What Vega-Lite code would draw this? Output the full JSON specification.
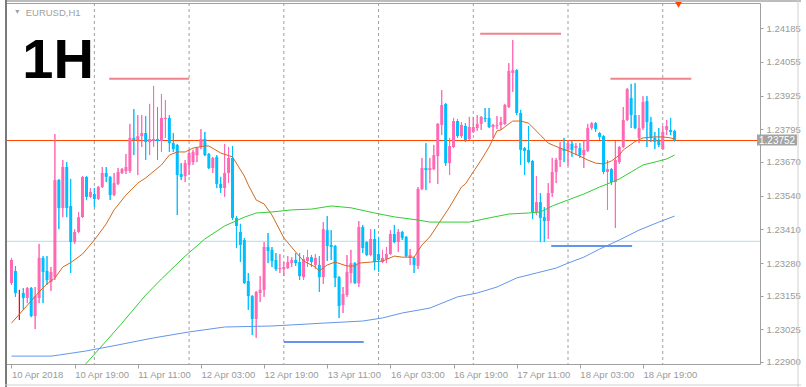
{
"$schema": "https://vega.github.io/schema/vega-lite/v6.json",
"width": 755, "height": 361,
"autosize": {"type": "none"},
"padding": {"left": 5, "top": 3, "right": 46, "bottom": 23},
"background": "white",
"config": {"view": {"stroke": "#a0a0a0", "strokeWidth": 1}, "font": "Liberation Sans",
"axis": {"grid": false, "domain": false, "labelFont": "Liberation Sans", "labelFontSize": 9.5, "labelColor": "#9a9a9a", "tickColor": "#a0a0a0"}},
"datasets": {
"candles": [
{"i":0,"o":1.23203,"h":1.23300,"l":1.23196,"c":1.23292},
{"i":1,"o":1.23250,"h":1.23269,"l":1.23150,"c":1.23165},
{"i":2,"o":1.23173,"h":1.23177,"l":1.23061,"c":1.23173},
{"i":3,"o":1.23165,"h":1.23184,"l":1.23100,"c":1.23146},
{"i":4,"o":1.23146,"h":1.23188,"l":1.23126,"c":1.23184},
{"i":5,"o":1.23184,"h":1.23188,"l":1.23072,"c":1.23076},
{"i":6,"o":1.23076,"h":1.23188,"l":1.23026,"c":1.23153},
{"i":7,"o":1.23146,"h":1.23354,"l":1.23126,"c":1.23300},
{"i":8,"o":1.23300,"h":1.23307,"l":1.23126,"c":1.23246},
{"i":9,"o":1.23250,"h":1.23307,"l":1.23196,"c":1.23215},
{"i":10,"o":1.23207,"h":1.23265,"l":1.23173,"c":1.23246},
{"i":11,"o":1.23226,"h":1.23777,"l":1.23215,"c":1.23600},
{"i":12,"o":1.23600,"h":1.23604,"l":1.23411,"c":1.23492},
{"i":13,"o":1.23492,"h":1.23677,"l":1.23457,"c":1.23650},
{"i":14,"o":1.23650,"h":1.23669,"l":1.23457,"c":1.23492},
{"i":15,"o":1.23500,"h":1.23604,"l":1.23242,"c":1.23361},
{"i":16,"o":1.23361,"h":1.23411,"l":1.23354,"c":1.23400},
{"i":17,"o":1.23400,"h":1.23477,"l":1.23396,"c":1.23457},
{"i":18,"o":1.23457,"h":1.23615,"l":1.23454,"c":1.23612},
{"i":19,"o":1.23612,"h":1.23615,"l":1.23523,"c":1.23535},
{"i":20,"o":1.23535,"h":1.23569,"l":1.23531,"c":1.23554},
{"i":21,"o":1.23546,"h":1.23569,"l":1.23496,"c":1.23527},
{"i":22,"o":1.23527,"h":1.23577,"l":1.23523,"c":1.23573},
{"i":23,"o":1.23573,"h":1.23650,"l":1.23569,"c":1.23627},
{"i":24,"o":1.23627,"h":1.23650,"l":1.23592,"c":1.23612},
{"i":25,"o":1.23612,"h":1.23615,"l":1.23523,"c":1.23542},
{"i":26,"o":1.23542,"h":1.23627,"l":1.23538,"c":1.23588},
{"i":27,"o":1.23585,"h":1.23646,"l":1.23581,"c":1.23631},
{"i":28,"o":1.23627,"h":1.23646,"l":1.23623,"c":1.23642},
{"i":29,"o":1.23635,"h":1.23700,"l":1.23623,"c":1.23650},
{"i":30,"o":1.23635,"h":1.23816,"l":1.23627,"c":1.23762},
{"i":31,"o":1.23762,"h":1.23873,"l":1.23696,"c":1.23754},
{"i":32,"o":1.23754,"h":1.23850,"l":1.23619,"c":1.23769},
{"i":33,"o":1.23769,"h":1.23850,"l":1.23727,"c":1.23781},
{"i":34,"o":1.23781,"h":1.23846,"l":1.23677,"c":1.23746},
{"i":35,"o":1.23746,"h":1.23893,"l":1.23696,"c":1.23758},
{"i":36,"o":1.23750,"h":1.23962,"l":1.23727,"c":1.23758},
{"i":37,"o":1.23758,"h":1.23881,"l":1.23677,"c":1.23750},
{"i":38,"o":1.23750,"h":1.23931,"l":1.23708,"c":1.23839},
{"i":39,"o":1.23835,"h":1.23908,"l":1.23762,"c":1.23839},
{"i":40,"o":1.23839,"h":1.23850,"l":1.23708,"c":1.23742},
{"i":41,"o":1.23742,"h":1.23781,"l":1.23708,"c":1.23719},
{"i":42,"o":1.23735,"h":1.23739,"l":1.23465,"c":1.23619},
{"i":43,"o":1.23623,"h":1.23665,"l":1.23600,"c":1.23612},
{"i":44,"o":1.23615,"h":1.23677,"l":1.23592,"c":1.23665},
{"i":45,"o":1.23658,"h":1.23716,"l":1.23619,"c":1.23704},
{"i":46,"o":1.23669,"h":1.23716,"l":1.23658,"c":1.23708},
{"i":47,"o":1.23696,"h":1.23727,"l":1.23669,"c":1.23723},
{"i":48,"o":1.23727,"h":1.23796,"l":1.23719,"c":1.23758},
{"i":49,"o":1.23758,"h":1.23785,"l":1.23692,"c":1.23696},
{"i":50,"o":1.23700,"h":1.23704,"l":1.23642,"c":1.23646},
{"i":51,"o":1.23646,"h":1.23689,"l":1.23627,"c":1.23685},
{"i":52,"o":1.23689,"h":1.23696,"l":1.23569,"c":1.23585},
{"i":53,"o":1.23585,"h":1.23612,"l":1.23550,"c":1.23569},
{"i":54,"o":1.23569,"h":1.23739,"l":1.23535,"c":1.23627},
{"i":55,"o":1.23627,"h":1.23727,"l":1.23588,"c":1.23685},
{"i":56,"o":1.23685,"h":1.23731,"l":1.23446,"c":1.23454},
{"i":57,"o":1.23454,"h":1.23461,"l":1.23338,"c":1.23423},
{"i":58,"o":1.23400,"h":1.23431,"l":1.23284,"c":1.23350},
{"i":59,"o":1.23369,"h":1.23377,"l":1.23200,"c":1.23203},
{"i":60,"o":1.23211,"h":1.23242,"l":1.23100,"c":1.23153},
{"i":61,"o":1.23153,"h":1.23157,"l":1.23003,"c":1.23065},
{"i":62,"o":1.23065,"h":1.23173,"l":1.22992,"c":1.23169},
{"i":63,"o":1.23165,"h":1.23230,"l":1.23130,"c":1.23177},
{"i":64,"o":1.23177,"h":1.23361,"l":1.23150,"c":1.23342},
{"i":65,"o":1.23342,"h":1.23396,"l":1.23280,"c":1.23327},
{"i":66,"o":1.23331,"h":1.23342,"l":1.23265,"c":1.23288},
{"i":67,"o":1.23292,"h":1.23319,"l":1.23250,"c":1.23257},
{"i":68,"o":1.23257,"h":1.23315,"l":1.23242,"c":1.23261},
{"i":69,"o":1.23257,"h":1.23284,"l":1.23230,"c":1.23265},
{"i":70,"o":1.23261,"h":1.23307,"l":1.23257,"c":1.23284},
{"i":71,"o":1.23280,"h":1.23303,"l":1.23265,"c":1.23292},
{"i":72,"o":1.23292,"h":1.23319,"l":1.23269,"c":1.23280},
{"i":73,"o":1.23284,"h":1.23319,"l":1.23215,"c":1.23230},
{"i":74,"o":1.23226,"h":1.23311,"l":1.23215,"c":1.23296},
{"i":75,"o":1.23288,"h":1.23331,"l":1.23265,"c":1.23303},
{"i":76,"o":1.23303,"h":1.23311,"l":1.23265,"c":1.23284},
{"i":77,"o":1.23273,"h":1.23315,"l":1.23257,"c":1.23300},
{"i":78,"o":1.23273,"h":1.23307,"l":1.23169,"c":1.23226},
{"i":79,"o":1.23226,"h":1.23438,"l":1.23200,"c":1.23411},
{"i":80,"o":1.23407,"h":1.23461,"l":1.23288,"c":1.23346},
{"i":81,"o":1.23350,"h":1.23407,"l":1.23292,"c":1.23342},
{"i":82,"o":1.23346,"h":1.23350,"l":1.23188,"c":1.23223},
{"i":83,"o":1.23226,"h":1.23230,"l":1.23069,"c":1.23115},
{"i":84,"o":1.23119,"h":1.23188,"l":1.23088,"c":1.23161},
{"i":85,"o":1.23157,"h":1.23311,"l":1.23150,"c":1.23246},
{"i":86,"o":1.23242,"h":1.23331,"l":1.23203,"c":1.23280},
{"i":87,"o":1.23280,"h":1.23284,"l":1.23200,"c":1.23203},
{"i":88,"o":1.23203,"h":1.23442,"l":1.23188,"c":1.23419},
{"i":89,"o":1.23419,"h":1.23427,"l":1.23319,"c":1.23338},
{"i":90,"o":1.23361,"h":1.23365,"l":1.23307,"c":1.23311},
{"i":91,"o":1.23311,"h":1.23411,"l":1.23307,"c":1.23373},
{"i":92,"o":1.23373,"h":1.23411,"l":1.23253,"c":1.23284},
{"i":93,"o":1.23315,"h":1.23381,"l":1.23246,"c":1.23292},
{"i":94,"o":1.23284,"h":1.23331,"l":1.23280,"c":1.23300},
{"i":95,"o":1.23296,"h":1.23342,"l":1.23280,"c":1.23315},
{"i":96,"o":1.23315,"h":1.23407,"l":1.23311,"c":1.23392},
{"i":97,"o":1.23392,"h":1.23427,"l":1.23357,"c":1.23361},
{"i":98,"o":1.23361,"h":1.23411,"l":1.23323,"c":1.23400},
{"i":99,"o":1.23400,"h":1.23404,"l":1.23369,"c":1.23377},
{"i":100,"o":1.23381,"h":1.23384,"l":1.23303,"c":1.23307},
{"i":101,"o":1.23300,"h":1.23334,"l":1.23273,"c":1.23311},
{"i":102,"o":1.23300,"h":1.23303,"l":1.23242,"c":1.23273},
{"i":103,"o":1.23269,"h":1.23573,"l":1.23257,"c":1.23565},
{"i":104,"o":1.23565,"h":1.23685,"l":1.23561,"c":1.23646},
{"i":105,"o":1.23646,"h":1.23742,"l":1.23561,"c":1.23638},
{"i":106,"o":1.23638,"h":1.23685,"l":1.23588,"c":1.23646},
{"i":107,"o":1.23642,"h":1.23735,"l":1.23638,"c":1.23696},
{"i":108,"o":1.23692,"h":1.23819,"l":1.23585,"c":1.23816},
{"i":109,"o":1.23812,"h":1.23946,"l":1.23773,"c":1.23889},
{"i":110,"o":1.23893,"h":1.23896,"l":1.23654,"c":1.23665},
{"i":111,"o":1.23665,"h":1.23762,"l":1.23619,"c":1.23731},
{"i":112,"o":1.23727,"h":1.23839,"l":1.23723,"c":1.23827},
{"i":113,"o":1.23827,"h":1.23835,"l":1.23762,"c":1.23769},
{"i":114,"o":1.23769,"h":1.23823,"l":1.23762,"c":1.23812},
{"i":115,"o":1.23808,"h":1.23819,"l":1.23746,"c":1.23754},
{"i":116,"o":1.23758,"h":1.23843,"l":1.23754,"c":1.23804},
{"i":117,"o":1.23785,"h":1.23843,"l":1.23781,"c":1.23804},
{"i":118,"o":1.23800,"h":1.23850,"l":1.23789,"c":1.23816},
{"i":119,"o":1.23816,"h":1.23846,"l":1.23793,"c":1.23843},
{"i":120,"o":1.23839,"h":1.23877,"l":1.23823,"c":1.23835},
{"i":121,"o":1.23839,"h":1.23877,"l":1.23800,"c":1.23804},
{"i":122,"o":1.23804,"h":1.23816,"l":1.23762,"c":1.23812},
{"i":123,"o":1.23808,"h":1.23846,"l":1.23796,"c":1.23812},
{"i":124,"o":1.23812,"h":1.23843,"l":1.23793,"c":1.23823},
{"i":125,"o":1.23816,"h":1.23893,"l":1.23812,"c":1.23889},
{"i":126,"o":1.23881,"h":1.24050,"l":1.23877,"c":1.24020},
{"i":127,"o":1.24012,"h":1.24139,"l":1.23939,"c":1.24023},
{"i":128,"o":1.24023,"h":1.24027,"l":1.23850,"c":1.23858},
{"i":129,"o":1.23858,"h":1.23870,"l":1.23658,"c":1.23716},
{"i":130,"o":1.23723,"h":1.23727,"l":1.23619,"c":1.23712},
{"i":131,"o":1.23716,"h":1.23808,"l":1.23665,"c":1.23669},
{"i":132,"o":1.23673,"h":1.23677,"l":1.23450,"c":1.23477},
{"i":133,"o":1.23477,"h":1.23615,"l":1.23465,"c":1.23515},
{"i":134,"o":1.23515,"h":1.23550,"l":1.23361,"c":1.23454},
{"i":135,"o":1.23457,"h":1.23496,"l":1.23361,"c":1.23442},
{"i":136,"o":1.23442,"h":1.23588,"l":1.23373,"c":1.23550},
{"i":137,"o":1.23550,"h":1.23685,"l":1.23535,"c":1.23631},
{"i":138,"o":1.23631,"h":1.23685,"l":1.23588,"c":1.23677},
{"i":139,"o":1.23677,"h":1.23746,"l":1.23650,"c":1.23723},
{"i":140,"o":1.23719,"h":1.23762,"l":1.23669,"c":1.23712},
{"i":141,"o":1.23716,"h":1.23754,"l":1.23654,"c":1.23742},
{"i":142,"o":1.23739,"h":1.23750,"l":1.23689,"c":1.23716},
{"i":143,"o":1.23723,"h":1.23742,"l":1.23696,"c":1.23731},
{"i":144,"o":1.23723,"h":1.23742,"l":1.23685,"c":1.23696},
{"i":145,"o":1.23696,"h":1.23754,"l":1.23646,"c":1.23716},
{"i":146,"o":1.23712,"h":1.23816,"l":1.23708,"c":1.23800},
{"i":147,"o":1.23800,"h":1.23823,"l":1.23793,"c":1.23819},
{"i":148,"o":1.23819,"h":1.23823,"l":1.23785,"c":1.23796},
{"i":149,"o":1.23781,"h":1.23785,"l":1.23754,"c":1.23766},
{"i":150,"o":1.23769,"h":1.23773,"l":1.23623,"c":1.23631},
{"i":151,"o":1.23631,"h":1.23677,"l":1.23485,"c":1.23642},
{"i":152,"o":1.23642,"h":1.23646,"l":1.23581,"c":1.23592},
{"i":153,"o":1.23592,"h":1.23750,"l":1.23415,"c":1.23677},
{"i":154,"o":1.23669,"h":1.23731,"l":1.23662,"c":1.23727},
{"i":155,"o":1.23727,"h":1.23881,"l":1.23723,"c":1.23831},
{"i":156,"o":1.23831,"h":1.23954,"l":1.23827,"c":1.23950},
{"i":157,"o":1.23916,"h":1.23970,"l":1.23800,"c":1.23850},
{"i":158,"o":1.23850,"h":1.23973,"l":1.23796,"c":1.23800},
{"i":159,"o":1.23762,"h":1.23850,"l":1.23742,"c":1.23800},
{"i":160,"o":1.23800,"h":1.23923,"l":1.23793,"c":1.23900},
{"i":161,"o":1.23904,"h":1.23923,"l":1.23727,"c":1.23823},
{"i":162,"o":1.23823,"h":1.23843,"l":1.23746,"c":1.23762},
{"i":163,"o":1.23762,"h":1.23785,"l":1.23719,"c":1.23746},
{"i":164,"o":1.23750,"h":1.23800,"l":1.23727,"c":1.23735},
{"i":165,"o":1.23719,"h":1.23808,"l":1.23716,"c":1.23785},
{"i":166,"o":1.23793,"h":1.23831,"l":1.23773,"c":1.23808},
{"i":167,"o":1.23793,"h":1.23839,"l":1.23773,"c":1.23785},
{"i":168,"o":1.23789,"h":1.23793,"l":1.23748,"c":1.23752}
],
"ma": [
{"m":"a","i":0,"v":1.23049},{"m":"a","i":7,"v":1.23169},{"m":"a","i":9,"v":1.23200},{"m":"a","i":11,"v":1.23223},{"m":"a","i":13,"v":1.23265},{"m":"a","i":15,"v":1.23282},{"m":"a","i":18,"v":1.23315},{"m":"a","i":21,"v":1.23369},{"m":"a","i":24,"v":1.23431},{"m":"a","i":26,"v":1.23485},{"m":"a","i":29,"v":1.23542},{"m":"a","i":32,"v":1.23588},{"m":"a","i":34,"v":1.23608},{"m":"a","i":38,"v":1.23658},{"m":"a","i":40,"v":1.23696},{"m":"a","i":42,"v":1.23708},{"m":"a","i":44,"v":1.23708},{"m":"a","i":46,"v":1.23723},{"m":"a","i":49,"v":1.23731},{"m":"a","i":50,"v":1.23731},{"m":"a","i":53,"v":1.23704},{"m":"a","i":56,"v":1.23689},{"m":"a","i":59,"v":1.23615},{"m":"a","i":60,"v":1.23581},{"m":"a","i":62,"v":1.23523},{"m":"a","i":64,"v":1.23508},{"m":"a","i":66,"v":1.23465},{"m":"a","i":69,"v":1.23377},{"m":"a","i":72,"v":1.23323},{"m":"a","i":74,"v":1.23288},{"m":"a","i":77,"v":1.23265},{"m":"a","i":78,"v":1.23250},{"m":"a","i":80,"v":1.23273},{"m":"a","i":82,"v":1.23284},{"m":"a","i":85,"v":1.23269},{"m":"a","i":87,"v":1.23269},{"m":"a","i":88,"v":1.23280},{"m":"a","i":91,"v":1.23284},{"m":"a","i":94,"v":1.23288},{"m":"a","i":97,"v":1.23307},{"m":"a","i":99,"v":1.23303},{"m":"a","i":102,"v":1.23303},{"m":"a","i":104,"v":1.23350},{"m":"a","i":106,"v":1.23381},{"m":"a","i":109,"v":1.23450},{"m":"a","i":111,"v":1.23496},{"m":"a","i":114,"v":1.23573},{"m":"a","i":115,"v":1.23585},{"m":"a","i":119,"v":1.23677},{"m":"a","i":121,"v":1.23727},{"m":"a","i":123,"v":1.23789},{"m":"a","i":124,"v":1.23793},{"m":"a","i":126,"v":1.23816},{"m":"a","i":127,"v":1.23827},{"m":"a","i":129,"v":1.23827},{"m":"a","i":131,"v":1.23819},{"m":"a","i":134,"v":1.23773},{"m":"a","i":136,"v":1.23742},{"m":"a","i":139,"v":1.23723},{"m":"a","i":141,"v":1.23712},{"m":"a","i":144,"v":1.23692},{"m":"a","i":146,"v":1.23677},{"m":"a","i":148,"v":1.23665},{"m":"a","i":150,"v":1.23662},{"m":"a","i":152,"v":1.23673},{"m":"a","i":154,"v":1.23696},{"m":"a","i":155,"v":1.23716},{"m":"a","i":158,"v":1.23748},{"m":"a","i":160,"v":1.23762},{"m":"a","i":163,"v":1.23766},{"m":"a","i":165,"v":1.23766},{"m":"a","i":167,"v":1.23762},{"m":"a","i":168,"v":1.23758},
{"m":"b","i":17,"v":1.22861},{"m":"b","i":19,"v":1.22895},{"m":"b","i":24,"v":1.22980},{"m":"b","i":28,"v":1.23049},{"m":"b","i":34,"v":1.23157},{"m":"b","i":38,"v":1.23219},{"m":"b","i":44,"v":1.23307},{"m":"b","i":49,"v":1.23373},{"m":"b","i":54,"v":1.23423},{"m":"b","i":59,"v":1.23457},{"m":"b","i":62,"v":1.23473},{"m":"b","i":66,"v":1.23477},{"m":"b","i":71,"v":1.23485},{"m":"b","i":76,"v":1.23488},{"m":"b","i":81,"v":1.23500},{"m":"b","i":86,"v":1.23493},{"m":"b","i":92,"v":1.23473},{"m":"b","i":97,"v":1.23458},{"m":"b","i":103,"v":1.23446},{"m":"b","i":106,"v":1.23438},{"m":"b","i":116,"v":1.23438},{"m":"b","i":121,"v":1.23454},{"m":"b","i":126,"v":1.23469},{"m":"b","i":131,"v":1.23473},{"m":"b","i":134,"v":1.23477},{"m":"b","i":137,"v":1.23500},{"m":"b","i":141,"v":1.23523},{"m":"b","i":145,"v":1.23546},{"m":"b","i":149,"v":1.23573},{"m":"b","i":151,"v":1.23585},{"m":"b","i":154,"v":1.23604},{"m":"b","i":157,"v":1.23631},{"m":"b","i":160,"v":1.23658},{"m":"b","i":163,"v":1.23669},{"m":"b","i":166,"v":1.23681},{"m":"b","i":168,"v":1.23696},
{"m":"c","i":0,"v":1.22922},{"m":"c","i":10,"v":1.22922},{"m":"c","i":12,"v":1.22926},{"m":"c","i":19,"v":1.22942},{"m":"c","i":27,"v":1.22965},{"m":"c","i":36,"v":1.22992},{"m":"c","i":45,"v":1.23015},{"m":"c","i":54,"v":1.23034},{"m":"c","i":66,"v":1.23038},{"m":"c","i":71,"v":1.23042},{"m":"c","i":79,"v":1.23049},{"m":"c","i":89,"v":1.23057},{"m":"c","i":94,"v":1.23069},{"m":"c","i":99,"v":1.23088},{"m":"c","i":106,"v":1.23107},{"m":"c","i":113,"v":1.23150},{"m":"c","i":118,"v":1.23165},{"m":"c","i":123,"v":1.23188},{"m":"c","i":128,"v":1.23223},{"m":"c","i":133,"v":1.23242},{"m":"c","i":138,"v":1.23261},{"m":"c","i":141,"v":1.23280},{"m":"c","i":145,"v":1.23303},{"m":"c","i":149,"v":1.23334},{"m":"c","i":154,"v":1.23369},{"m":"c","i":159,"v":1.23407},{"m":"c","i":164,"v":1.23438},{"m":"c","i":168,"v":1.23461}
],
"days": [{"i":21},{"i":45},{"i":69},{"i":93},{"i":117},{"i":141},{"i":165}],
"hlines": [{"p":1.23364,"k":"s"},{"p":1.23752,"k":"p"}],
"levels": [
{"i":24.75,"i2":45,"p":1.23990,"k":"r"},
{"i":118.75,"i2":139.25,"p":1.24163,"k":"r"},
{"i":151.75,"i2":172.25,"p":1.23990,"k":"r"},
{"i":69,"i2":89.25,"p":1.22976,"k":"b"},
{"i":136.75,"i2":157.25,"p":1.23346,"k":"b"}
],
"edges": [{"x0": -0.375, "x1": 188.375, "top": 1.242815, "bottom": 1.228916}]
},
"layer": [
{
"data": {"name": "candles"},
"mark": {"type": "rule", "strokeWidth": 1},
"encoding": {
"x": {"field": "i", "type": "quantitative",
"scale": {"domain": [-0.375, 188.375], "nice": false, "zero": false},
"axis": {"values": [0,16,32,48,64,80,96,112,128,144,160], "tickCount": 40,
"labelExpr": "['10 Apr 2018','10 Apr 19:00','11 Apr 11:00','12 Apr 03:00','12 Apr 19:00','13 Apr 11:00','16 Apr 03:00','16 Apr 19:00','17 Apr 11:00','18 Apr 03:00','18 Apr 19:00'][round(datum.value/16)]",
"title": null, "ticks": true, "tickSize": 4,
"labelAlign": "left", "labelPadding": 1, "labelFlush": false, "labelOverlap": false, "labelBound": false}},
"y": {"field": "l", "type": "quantitative", "scale": {"domain": [1.228916, 1.242815], "nice": false, "zero": false},
"axis": {"orient": "right", "values": [1.229, 1.23025, 1.23155, 1.2328, 1.2341, 1.2354, 1.2367, 1.23795, 1.23925, 1.24055, 1.24185], "tickCount": 40,
"format": ".5f", "title": null, "ticks": true, "tickSize": 3, "labelPadding": 3, "labelBaseline": "middle",
"labelOverlap": false, "labelFlush": false, "labelBound": false}},
"y2": {"field": "h"},
"color": {"condition": [{"test": "datum.o == datum.c", "value": "#ff0000"}, {"test": "datum.c > datum.o", "value": "#ff69b4"}], "value": "#00bfff"}
}
},
{
"data": {"name": "days"},
"mark": {"type": "rule", "strokeDash": [3, 3], "color": "#a0a0a0", "strokeWidth": 1},
"encoding": {
"x": {"field": "i", "type": "quantitative"}
}
},
{
"data": {"name": "hlines"},
"mark": {"type": "rule", "strokeWidth": 1},
"encoding": {
"y": {"field": "p", "type": "quantitative"},
"color": {"condition": {"test": "datum.k == 'p'", "value": "#ff4500"}, "value": "#b0dce4"}
}
},
{
"data": {"name": "candles"},
"mark": {"type": "rule", "strokeWidth": 1},
"encoding": {
"x": {"field": "i", "type": "quantitative"},
"y": {"field": "l", "type": "quantitative"},
"y2": {"field": "h"},
"color": {"condition": [{"test": "datum.o == datum.c", "value": "#ff0000"}, {"test": "datum.c > datum.o", "value": "#ff69b4"}], "value": "#00bfff"}
}
},
{
"data": {"name": "candles"},
"mark": {"type": "bar", "size": 3},
"encoding": {
"x": {"field": "i", "type": "quantitative"},
"y": {"field": "o", "type": "quantitative"},
"y2": {"field": "c"},
"color": {"condition": [{"test": "datum.o == datum.c", "value": "#ff0000"}, {"test": "datum.c > datum.o", "value": "#ff69b4"}], "value": "#00bfff"}
}
},
{
"data": {"name": "ma"},
"mark": {"type": "line", "strokeWidth": 1, "clip": true},
"encoding": {
"x": {"field": "i", "type": "quantitative"},
"y": {"field": "v", "type": "quantitative"},
"color": {"field": "m", "type": "nominal", "scale": {"domain": ["a", "b", "c"], "range": ["#d2691e", "#32cd32", "#6495ed"]}, "legend": null}
}
},
{
"data": {"name": "levels"},
"mark": {"type": "rule", "strokeWidth": 2},
"encoding": {
"x": {"field": "i", "type": "quantitative"},
"x2": {"field": "i2"},
"y": {"field": "p", "type": "quantitative"},
"color": {"condition": {"test": "datum.k == 'r'", "value": "#f0848c"}, "value": "#6495ed"}
}
},
{
"data": {"values": [{"i": 188.375, "p": 1.23752}]},
"mark": {"type": "rect", "xOffset": 2, "x2Offset": 42, "yOffset": -6, "y2Offset": 5, "fill": "#a3a3a3"},
"encoding": {
"x": {"field": "i", "type": "quantitative"},
"x2": {"field": "i"},
"y": {"field": "p", "type": "quantitative"},
"y2": {"field": "p"}
}
},
{
"data": {"values": [{"i": 188.375, "p": 1.23752}]},
"mark": {"type": "text", "align": "left", "baseline": "middle", "dx": 4, "color": "white", "fontSize": 10, "font": "Liberation Sans"},
"encoding": {
"x": {"field": "i", "type": "quantitative"},
"y": {"field": "p", "type": "quantitative"},
"text": {"field": "p", "type": "quantitative", "format": ".5f"}
}
},
{
"data": {"values": [{"i": 169, "p": 1.24274, "k": "shift"}, {"i": 1.5, "p": 1.24247, "k": "menu"}]},
"mark": {"type": "point", "shape": "triangle-down", "filled": true, "opacity": 1},
"encoding": {
"x": {"field": "i", "type": "quantitative"},
"y": {"field": "p", "type": "quantitative"},
"color": {"condition": {"test": "datum.k == 'shift'", "value": "#ff4500"}, "value": "#a0a0a0"},
"size": {"condition": {"test": "datum.k == 'shift'", "value": 45}, "value": 18}
}
},
{
"data": {"values": [{"i": 3.6, "p": 1.24231, "t": "EURUSD,H1"}]},
"mark": {"type": "text", "align": "left", "baseline": "alphabetic", "fontSize": 9.5, "color": "#a0a0a0", "font": "Liberation Sans"},
"encoding": {
"x": {"field": "i", "type": "quantitative"},
"y": {"field": "p", "type": "quantitative"},
"text": {"field": "t"}
}
},
{
"data": {"values": [{"i": 2.75, "p": 1.23993, "t": "1H"}]},
"mark": {"type": "text", "align": "left", "baseline": "alphabetic", "fontSize": 56, "fontWeight": "bold", "color": "black", "font": "Liberation Sans"},
"encoding": {
"x": {"field": "i", "type": "quantitative"},
"y": {"field": "p", "type": "quantitative"},
"text": {"field": "t"}
}
},
{
"data": {"name": "edges"},
"mark": {"type": "rule", "color": "#7a7a7a", "strokeWidth": 2, "xOffset": -4, "yOffset": -3, "y2Offset": 23},
"encoding": {
"x": {"field": "x0", "type": "quantitative"},
"y": {"field": "top", "type": "quantitative"},
"y2": {"field": "bottom"}
}
},
{
"data": {"name": "edges"},
"mark": {"type": "rule", "color": "#7a7a7a", "strokeWidth": 1, "yOffset": -2, "xOffset": -5, "x2Offset": 46},
"encoding": {
"x": {"field": "x0", "type": "quantitative"},
"x2": {"field": "x1"},
"y": {"field": "top", "type": "quantitative"}
}
},
{
"data": {"name": "edges"},
"mark": {"type": "rule", "color": "#d0d0d0", "strokeWidth": 1, "xOffset": 43, "yOffset": -3, "y2Offset": 23},
"encoding": {
"x": {"field": "x1", "type": "quantitative"},
"y": {"field": "top", "type": "quantitative"},
"y2": {"field": "bottom"}
}
},
{
"data": {"name": "edges"},
"mark": {"type": "rule", "color": "#d0d0d0", "strokeWidth": 1, "yOffset": 21, "xOffset": -5, "x2Offset": 46},
"encoding": {
"x": {"field": "x0", "type": "quantitative"},
"x2": {"field": "x1"},
"y": {"field": "bottom", "type": "quantitative"}
}
}
]
}
